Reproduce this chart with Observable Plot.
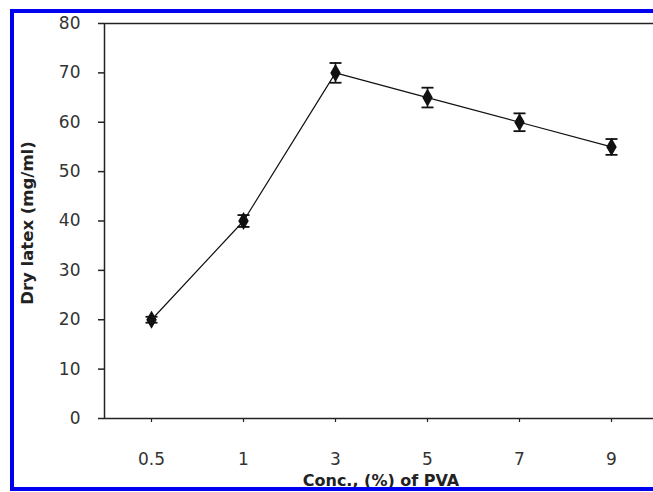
<!DOCTYPE html>
<html>
<head>
<meta charset="utf-8">
<script src="https://cdn.jsdelivr.net/npm/d3@7"></script>
<script src="https://cdn.jsdelivr.net/npm/@observablehq/plot@0.6"></script>
<style>
  html, body { margin: 0; padding: 0; background: #fff; overflow: hidden; }
  #wrap { position: relative; width: 653px; height: 492px; overflow: hidden; }
</style>
</head>
<body>
<div id="wrap"></div>
<script>
const conc = ["0.5", "1", "3", "5", "7", "9"];
const latex = [20, 40, 70, 65, 60, 55];
const errors = [0.6, 1.2, 2, 2, 1.8, 1.6];
const yTicks = [0, 10, 20, 30, 40, 50, 60, 70, 80];

const data = conc.map((c, i) => ({c, v: latex[i], lo: latex[i] - errors[i], hi: latex[i] + errors[i]}));

const cap = {
  draw(ctx, size) {
    const w = Math.sqrt(size / Math.PI);
    ctx.moveTo(-w, 0);
    ctx.lineTo(w, 0);
  }
};

const chart = Plot.plot({
  width: 653,
  height: 492,
  marginTop: 23,
  marginBottom: 74,
  marginLeft: 104,
  marginRight: -4,
  style: {fontFamily: "'DejaVu Sans', sans-serif", fontSize: "17px", color: "#333", background: "transparent"},
  x: {type: "point", domain: conc, padding: 0.5},
  y: {domain: [0, 80]},
  marks: [
    Plot.frame({stroke: "#222", strokeWidth: 1.5}),
    Plot.axisY(yTicks, {tickSize: 6, tickPadding: 18, stroke: "#222", strokeWidth: 1.5, label: null}),
    Plot.axisX({tickSize: 4, tickPadding: 30, stroke: "#222", strokeWidth: 1.2, label: null}),
    Plot.line(data, {x: "c", y: "v", stroke: "#111", strokeWidth: 1.2}),
    Plot.ruleX(data, {x: "c", y1: "lo", y2: "hi", stroke: "#111", strokeWidth: 1.5}),
    Plot.dot(data, {x: "c", y: "hi", symbol: cap, r: 6, stroke: "#111", strokeWidth: 1.8}),
    Plot.dot(data, {x: "c", y: "lo", symbol: cap, r: 6, stroke: "#111", strokeWidth: 1.8}),
    Plot.dot(data, {x: "c", y: "v", symbol: "diamond", r: 4.6, fill: "#111", stroke: "#111"}),
    Plot.text(["Conc., (%) of PVA"], {text: d => d, frameAnchor: "bottom", dy: 62, lineAnchor: "middle", textAnchor: "middle", fontWeight: "bold", fontSize: 16, letterSpacing: 0.8, fill: "#222"}),
    Plot.text(["Dry latex (mg/ml)"], {text: d => d, frameAnchor: "left", dx: -77, dy: 2, rotate: -90, lineAnchor: "middle", textAnchor: "middle", fontWeight: "bold", fontSize: 16.5, letterSpacing: 0.3, fill: "#222"})
  ]
});
// decorative blue page border (top, left, bottom) as in the reference
const border = d3.select(chart).append("path")
  .attr("d", "M653,11H12V489H653")
  .attr("fill", "none")
  .attr("stroke", "#0000f0")
  .attr("stroke-width", 4);
document.getElementById("wrap").appendChild(chart);
</script>
</body>
</html>
